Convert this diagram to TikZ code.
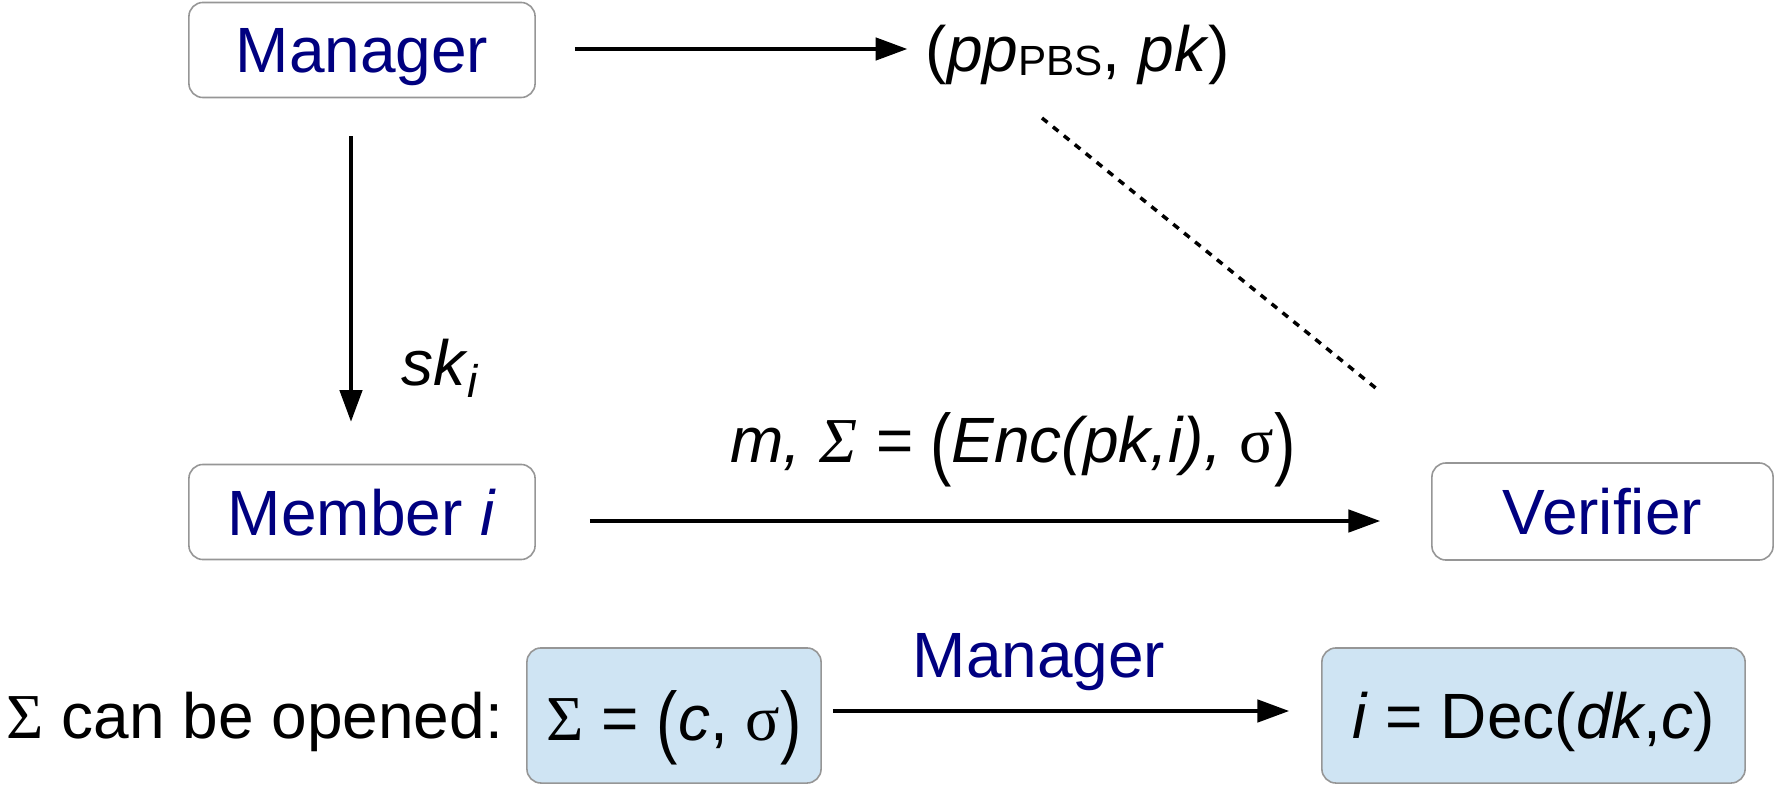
\documentclass[tikz,border=0pt]{standalone}
\usepackage{fontspec}
\setmainfont{Liberation Sans}
\newfontfamily\greekfont{Liberation Serif}
\usetikzlibrary{arrows.meta,calc}
\definecolor{actorblue}{RGB}{0,0,128}
\definecolor{boxgray}{RGB}{150,150,150}
\definecolor{openfill}{RGB}{207,228,243}
\newcommand{\Sig}{{\greekfont Σ}}
\newcommand{\sig}{{\greekfont\upshape σ}}
\newcommand{\tallpar}[1]{\raisebox{-0.13em}{\scalebox{1}[1.25]{\upshape #1}}}

\begin{document}
\begin{tikzpicture}[
    x=0.01cm, y=-0.01cm,
    every node/.style={font=\fontsize{18.2}{22}\selectfont},
    party/.style={draw=boxgray, line width=0.45pt, rounded corners=4pt, fill=white,
      text=actorblue, text depth=0pt, inner sep=0pt,
      minimum width=3.46cm, minimum height=0.95cm},
    openbox/.style={party, fill=openfill, text=black, minimum height=1.35cm},
    lbl/.style={inner sep=0pt},
    msg/.style={-{Triangle[length=9pt,width=6.4pt]}, line width=0.9pt},
    link/.style={line width=1pt, dash pattern=on 2pt off 2pt}
  ]
    \useasboundingbox (0,0) rectangle (1775,785);
    % parties
    \node[party] (mgr) at (362,50) {Manager};
    \node[party] (mem) at (362,512) {Member \textit{i}};
    \node[party, minimum width=3.41cm, minimum height=0.97cm] (ver) at (1602.5,511.5) {Verifier};
    % public parameters
    \node[lbl] (pub) at (1078,55)
      {(\textit{pp}\raisebox{-1pt}{\fontsize{12}{13}\selectfont PBS}, \textit{pk})};
    \draw[msg, shorten <=0.39cm, shorten >=0.18cm]
      ([yshift=0.01cm]mgr.east) -- ([yshift=0.01cm]mgr.east -| pub.west);
    \draw[link] ($(pub)+(-36,63)$) -- ($(ver.north west)+(-54,-73)$);
    % key issuing
    \node[lbl] (ski) at (440,368)
      {\textit{sk}\raisebox{-3.5pt}{\fontsize{13}{14}\selectfont\textit{i}}};
    \draw[msg, shorten <=0.38cm, shorten >=0.42cm]
      ([xshift=-0.11cm]mgr.south) -- ([xshift=-0.11cm]mem.north);
    % signing
    \node[lbl] (enc) at (1013,450)
      {\itshape m, \Sig\ = \tallpar{(}Enc(pk,i), \sig\tallpar{)}};
    \draw[msg, shorten <=0.54cm, shorten >=0.51cm]
      ([yshift=-0.09cm]mem.east) -- ([yshift=-0.09cm]mem.east -| ver.west);
    % opening
    \node[lbl, anchor=base west] (opn) at (6,738) {\Sig\ can be opened:};
    \node[openbox, minimum width=2.94cm] (sig) at (674,715.5)
      {\Sig\ = \tallpar{(}\textit{c}, \sig\tallpar{)}};
    \node[openbox, minimum width=4.23cm] (dec) at (1533.5,715.5)
      {\textit{i} = Dec(\textit{dk},\textit{c})};
    \node[lbl, text=actorblue] (opener) at (1039,662) {Manager};
    \draw[msg, shorten <=0.11cm, shorten >=0.32cm]
      ([yshift=0.045cm]sig.east) -- ([yshift=0.045cm]sig.east -| dec.west);
  \end{tikzpicture}
\end{document}
